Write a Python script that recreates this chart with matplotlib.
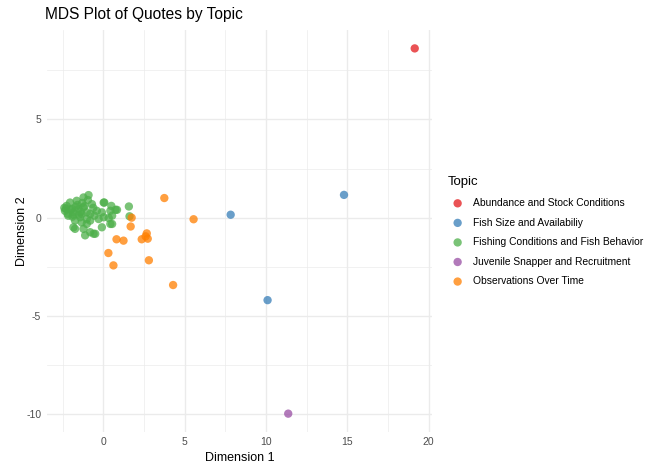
import numpy as np
import matplotlib
matplotlib.use("Agg")
import matplotlib.pyplot as plt
from matplotlib.ticker import MultipleLocator

plt.rcParams['font.family'] = ['Liberation Sans', 'DejaVu Sans']
plt.rcParams['axes.unicode_minus'] = False

topics = ["Abundance and Stock Conditions", "Fish Size and Availabiliy",
          "Fishing Conditions and Fish Behavior", "Juvenile Snapper and Recruitment",
          "Observations Over Time"]
colors = ["#E41A1C", "#377EB8", "#4DAF4A", "#984EA3", "#FF7F00"]

# coordinates, per topic
abund_x = [19.15]
abund_y = [8.62]

size_x = [7.83, 14.8, 10.1]
size_y = [0.15, 1.16, -4.2]

fishing_x = [-0.91, -1.22, 0.02, 0.49, 1.57, -0.7, -2.26, -2.05, -1.64, -2.36,
             -2.16, -1.84, -1.53, -1.22, -1.02, -0.81, -0.4, -0.09, 0.43, 0.84,
             0.54, 0.02, -0.29, 1.61, -1.74, -1.33, -1.02, 0.54, -1.84, -1.22,
             -0.09, -1.74, -0.81, -0.6, -1.12, -1.43, -0.62, -1.33, -1.02, -0.81,
             0.33, 0.43, -0.5, -2.4, -1.95, -1.6, -1.3, -0.95, -2.2, -1.9,
             -1.5, -1.15, -0.55, 0.75, 0.06, -2.0, -1.7, -1.4, -2.3, -1.85]
fishing_y = [1.15, 1.03, 0.77, 0.6, 0.57, 0.69, 0.6, 0.77, 0.86, 0.35,
             0.1, 0.27, 0.44, 0.53, 0.27, 0.19, 0.35, 0.27, 0.35, 0.4,
             0.1, 0.02, -0.07, 0.07, -0.15, -0.24, -0.32, -0.32, -0.49, -0.57,
             -0.49, -0.57, -0.74, -0.82, -0.9, 0.02, 0.5, 0.19, -0.07, -0.15,
             -0.02, -0.32, -0.82, 0.5, 0.45, 0.65, 0.75, 0.9, 0.2, 0.05,
             0.15, 0.6, 0.1, 0.4, 0.77, 0.4, 0.55, 0.3, 0.45, 0.15]

juvenile_x = [11.37]
juvenile_y = [-9.98]

obs_x = [3.75, 5.55, 1.74, 1.68, 0.81, 1.24, 0.31, 0.62, 2.36, 2.67,
         2.73, 2.6, 2.8, 4.29]
obs_y = [1.0, -0.08, 0.0, -0.45, -1.1, -1.17, -1.8, -2.43, -1.1, -0.8,
         -1.07, -0.95, -2.17, -3.43]

xs = [abund_x, size_x, fishing_x, juvenile_x, obs_x]
ys = [abund_y, size_y, fishing_y, juvenile_y, obs_y]

fig = plt.figure(figsize=(6.5, 4.71), dpi=100)
ax = fig.add_axes([0.072, 0.083, 0.593, 0.853])

handles = []
for t, c, x, y in zip(topics, colors, xs, ys):
    h = ax.scatter(x, y, s=36, color=c, alpha=0.75, edgecolors='none', label=t, zorder=3)
    handles.append(h)

# ggplot-like expansion
allx = np.concatenate([np.array(v) for v in xs])
ally = np.concatenate([np.array(v) for v in ys])
rx = allx.max() - allx.min()
ry = ally.max() - ally.min()
ax.set_xlim(allx.min() - 0.05 * rx, allx.max() + 0.05 * rx)
ax.set_ylim(ally.min() - 0.05 * ry, ally.max() + 0.05 * ry)

ax.xaxis.set_major_locator(MultipleLocator(5))
ax.yaxis.set_major_locator(MultipleLocator(5))
ax.xaxis.set_minor_locator(MultipleLocator(2.5))
ax.yaxis.set_minor_locator(MultipleLocator(2.5))
ax.grid(which='major', color='#EBEBEB', linewidth=1.0, zorder=0)
ax.grid(which='minor', color='#EBEBEB', linewidth=0.5, zorder=0)
ax.set_axisbelow(True)
for s in ax.spines.values():
    s.set_visible(False)
ax.tick_params(which='both', length=0, labelsize=7.5, colors='#4D4D4D', pad=4)

ax.set_xlabel("Dimension 1", fontsize=9, color='black', labelpad=3.5)
ax.set_ylabel("Dimension 2", fontsize=9, color='black', labelpad=-1)
ax.set_title("MDS Plot of Quotes by Topic", fontsize=11.2, loc='left', pad=8, x=-0.005)

leg = fig.legend(handles=handles, loc='upper left', bbox_to_anchor=(0.674, 0.645),
                 title="Topic", fontsize=7.4, title_fontsize=9.5, frameon=False,
                 labelspacing=0.93, handletextpad=0.45, markerscale=1.0,
                 alignment='left')
for h in leg.legend_handles:
    h.set_alpha(0.75)

fig.savefig("out.png", dpi=100)
